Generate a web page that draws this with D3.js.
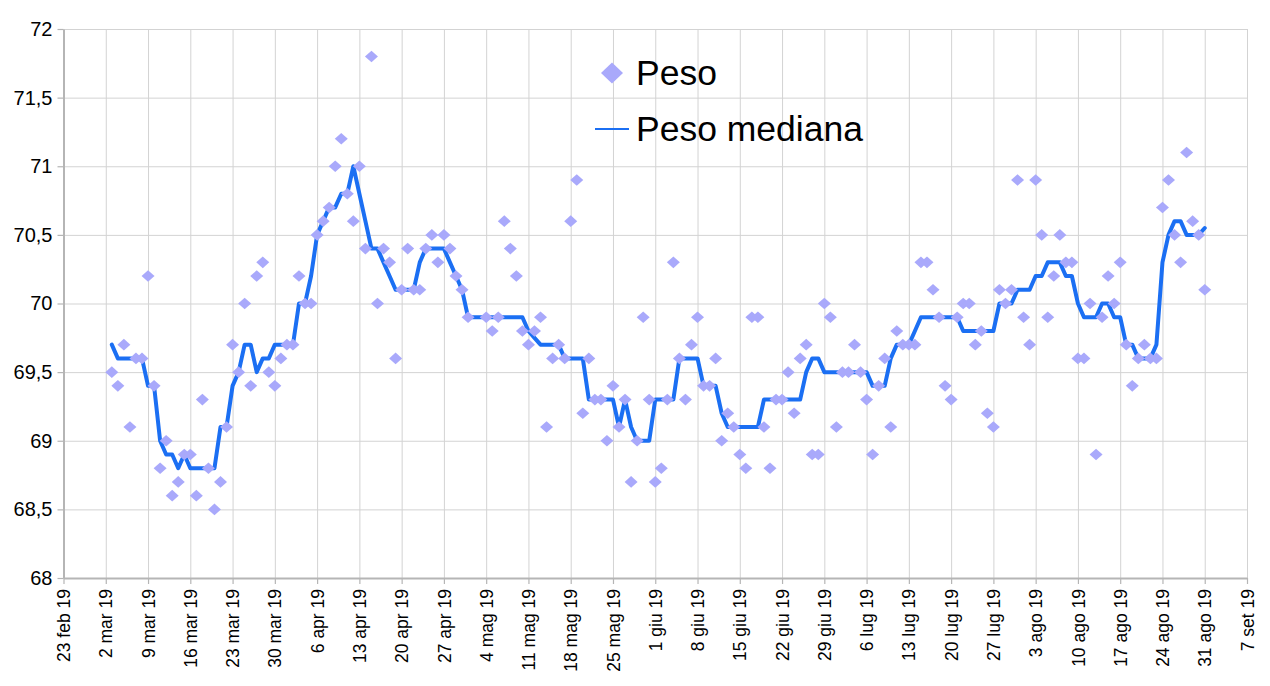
<!DOCTYPE html>
<html>
<head>
<meta charset="utf-8">
<script src="https://d3js.org/d3.v7.min.js"></script>
<style type="text/css">
  body { margin: 0; background: #fff; }
  svg { font-family: "Liberation Sans", Arial, sans-serif; }
  .grid line { stroke: #d3d3d3; stroke-width: 1; }
  .grid path { display: none; }
</style>
<script>
// daily weigh-ins (2 and 3 may are missing)
var giorni = [
  "2019-03-03","2019-03-04","2019-03-05","2019-03-06","2019-03-07","2019-03-08","2019-03-09","2019-03-10","2019-03-11","2019-03-12","2019-03-13","2019-03-14","2019-03-15","2019-03-16","2019-03-17","2019-03-18","2019-03-19","2019-03-20","2019-03-21","2019-03-22","2019-03-23","2019-03-24","2019-03-25","2019-03-26","2019-03-27","2019-03-28","2019-03-29","2019-03-30","2019-03-31",
  "2019-04-01","2019-04-02","2019-04-03","2019-04-04","2019-04-05","2019-04-06","2019-04-07","2019-04-08","2019-04-09","2019-04-10","2019-04-11","2019-04-12","2019-04-13","2019-04-14","2019-04-15","2019-04-16","2019-04-17","2019-04-18","2019-04-19","2019-04-20","2019-04-21","2019-04-22","2019-04-23","2019-04-24","2019-04-25","2019-04-26","2019-04-27","2019-04-28","2019-04-29","2019-04-30",
  "2019-05-01","2019-05-04","2019-05-05","2019-05-06","2019-05-07","2019-05-08","2019-05-09","2019-05-10","2019-05-11","2019-05-12","2019-05-13","2019-05-14","2019-05-15","2019-05-16","2019-05-17","2019-05-18","2019-05-19","2019-05-20","2019-05-21","2019-05-22","2019-05-23","2019-05-24","2019-05-25","2019-05-26","2019-05-27","2019-05-28","2019-05-29","2019-05-30","2019-05-31",
  "2019-06-01","2019-06-02","2019-06-03","2019-06-04","2019-06-05","2019-06-06","2019-06-07","2019-06-08","2019-06-09","2019-06-10","2019-06-11","2019-06-12","2019-06-13","2019-06-14","2019-06-15","2019-06-16","2019-06-17","2019-06-18","2019-06-19","2019-06-20","2019-06-21","2019-06-22","2019-06-23","2019-06-24","2019-06-25","2019-06-26","2019-06-27","2019-06-28","2019-06-29","2019-06-30",
  "2019-07-01","2019-07-02","2019-07-03","2019-07-04","2019-07-05","2019-07-06","2019-07-07","2019-07-08","2019-07-09","2019-07-10","2019-07-11","2019-07-12","2019-07-13","2019-07-14","2019-07-15","2019-07-16","2019-07-17","2019-07-18","2019-07-19","2019-07-20","2019-07-21","2019-07-22","2019-07-23","2019-07-24","2019-07-25","2019-07-26","2019-07-27","2019-07-28","2019-07-29","2019-07-30","2019-07-31",
  "2019-08-01","2019-08-02","2019-08-03","2019-08-04","2019-08-05","2019-08-06","2019-08-07","2019-08-08","2019-08-09","2019-08-10","2019-08-11","2019-08-12","2019-08-13","2019-08-14","2019-08-15","2019-08-16","2019-08-17","2019-08-18","2019-08-19","2019-08-20","2019-08-21","2019-08-22","2019-08-23","2019-08-24","2019-08-25","2019-08-26","2019-08-27","2019-08-28","2019-08-29","2019-08-30","2019-08-31"
];

var peso = [
  69.5,69.4,69.7,69.1,69.6,69.6,70.2,69.4,68.8,69.0,68.6,68.7,68.9,68.9,68.6,69.3,68.8,68.5,68.7,69.1,69.7,69.5,70.0,69.4,70.2,70.3,69.5,69.4,69.6,
  69.7,69.7,70.2,70.0,70.0,70.5,70.6,70.7,71.0,71.2,70.8,70.6,71.0,70.4,71.8,70.0,70.4,70.3,69.6,70.1,70.4,70.1,70.1,70.4,70.5,70.3,70.5,70.4,70.2,70.1,
  69.9,69.9,69.8,69.9,70.6,70.4,70.2,69.8,69.7,69.8,69.9,69.1,69.6,69.7,69.6,70.6,70.9,69.2,69.6,69.3,69.3,69.0,69.4,69.1,69.3,68.7,69.0,69.9,69.3,
  68.7,68.8,69.3,70.3,69.6,69.3,69.7,69.9,69.4,69.4,69.6,69.0,69.2,69.1,68.9,68.8,69.9,69.9,69.1,68.8,69.3,69.3,69.5,69.2,69.6,69.7,68.9,68.9,70.0,69.9,
  69.1,69.5,69.5,69.7,69.5,69.3,68.9,69.4,69.6,69.1,69.8,69.7,69.7,69.7,70.3,70.3,70.1,69.9,69.4,69.3,69.9,70.0,70.0,69.7,69.8,69.2,69.1,70.1,70.0,70.1,70.9,
  69.9,69.7,70.9,70.5,69.9,70.2,70.5,70.3,70.3,69.6,69.6,70.0,68.9,69.9,70.2,70.0,70.3,69.7,69.4,69.6,69.7,69.6,69.6,70.7,70.9,70.5,70.3,71.1,70.6,70.5,70.1
];

var pesoMediana = [
  69.7,69.6,69.6,69.6,69.6,69.6,69.4,69.4,69.0,68.9,68.9,68.8,68.9,68.8,68.8,68.8,68.8,68.8,69.1,69.1,69.4,69.5,69.7,69.7,69.5,69.6,69.6,69.7,69.7,
  69.7,69.7,70.0,70.0,70.2,70.5,70.6,70.7,70.7,70.8,70.8,71.0,70.8,70.6,70.4,70.4,70.3,70.2,70.1,70.1,70.1,70.1,70.3,70.4,70.4,70.4,70.4,70.3,70.2,70.1,
  69.9,69.9,69.9,69.9,69.9,69.9,69.9,69.9,69.8,69.75,69.7,69.7,69.7,69.7,69.6,69.6,69.6,69.6,69.3,69.3,69.3,69.3,69.3,69.1,69.3,69.1,69.0,69.0,69.0,
  69.3,69.3,69.3,69.3,69.6,69.6,69.6,69.6,69.4,69.4,69.4,69.2,69.1,69.1,69.1,69.1,69.1,69.1,69.3,69.3,69.3,69.3,69.3,69.3,69.3,69.5,69.6,69.6,69.5,69.5,
  69.5,69.5,69.5,69.5,69.5,69.5,69.4,69.4,69.4,69.6,69.7,69.7,69.7,69.8,69.9,69.9,69.9,69.9,69.9,69.9,69.9,69.8,69.8,69.8,69.8,69.8,69.8,70.0,70.0,70.0,70.1,
  70.1,70.1,70.2,70.2,70.3,70.3,70.3,70.2,70.2,70.0,69.9,69.9,69.9,70.0,70.0,69.9,69.9,69.7,69.7,69.6,69.6,69.6,69.7,70.3,70.5,70.6,70.6,70.5,70.5,70.5,70.55
];

var tickDate = [
  "2019-02-23","2019-03-02","2019-03-09","2019-03-16","2019-03-23","2019-03-30","2019-04-06","2019-04-13","2019-04-20","2019-04-27",
  "2019-05-04","2019-05-11","2019-05-18","2019-05-25","2019-06-01","2019-06-08","2019-06-15","2019-06-22","2019-06-29","2019-07-06",
  "2019-07-13","2019-07-20","2019-07-27","2019-08-03","2019-08-10","2019-08-17","2019-08-24","2019-08-31","2019-09-07"
];
var tickLabel = [
  "23 feb 19","2 mar 19","9 mar 19","16 mar 19","23 mar 19","30 mar 19","6 apr 19","13 apr 19","20 apr 19","27 apr 19",
  "4 mag 19","11 mag 19","18 mag 19","25 mag 19","1 giu 19","8 giu 19","15 giu 19","22 giu 19","29 giu 19","6 lug 19",
  "13 lug 19","20 lug 19","27 lug 19","3 ago 19","10 ago 19","17 ago 19","24 ago 19","31 ago 19","7 set 19"
];
var yTicks = [68, 68.5, 69, 69.5, 70, 70.5, 71, 71.5, 72];
var serie = ["Peso", "Peso mediana"];

function diamondPath(w, h) {
  return "M0," + (-h) + "L" + w + ",0L0," + h + "L" + (-w) + ",0Z";
}

function drawChart() {
  var W = 1270, H = 686;
  var left = 63.5, right = 1247, top = 29, bottom = 578;
  var parse = d3.utcParse("%Y-%m-%d");
  var itFmt = d3.formatLocale({decimal: ",", thousands: ".", grouping: [3], currency: ["", " €"]}).format(".1~f");

  var rows = giorni.map(function(g, i) { return { d: parse(g), p: peso[i], m: pesoMediana[i] }; });
  var ticks = tickDate.map(parse);

  var svg = d3.select("#chart").attr("width", W).attr("height", H);

  var scX = d3.scaleUtc().domain([ticks[0], ticks[ticks.length - 1]]).range([left, right]);
  var scY = d3.scaleLinear().domain([68, 72]).range([bottom, top]);

  // grid
  svg.append("g").attr("class", "grid")
    .attr("transform", "translate(0," + bottom + ")")
    .call(d3.axisBottom(scX).tickValues(ticks).tickSize(-(bottom - top)).tickFormat(""));
  svg.append("g").attr("class", "grid")
    .attr("transform", "translate(" + left + ",0)")
    .call(d3.axisLeft(scY).tickValues(yTicks).tickSize(-(right - left)).tickFormat(""));

  // axes
  var ax = svg.append("g").attr("transform", "translate(0," + bottom + ")")
    .call(d3.axisBottom(scX).tickValues(ticks).tickSizeInner(6).tickSizeOuter(0)
      .tickFormat(function(d, i) { return tickLabel[i]; }));
  ax.selectAll("text")
    .attr("transform", "rotate(-90)")
    .attr("x", -11).attr("y", 0).attr("dy", "0.35em")
    .style("text-anchor", "end")
    .style("font-size", "17.5px").style("fill", "#000");

  var ay = svg.append("g").attr("transform", "translate(" + left + ",0)")
    .call(d3.axisLeft(scY).tickValues(yTicks).tickSizeInner(6).tickSizeOuter(0).tickPadding(5).tickFormat(itFmt));
  ay.selectAll("text").style("font-size", "20px").style("font-family", "Liberation Sans, Arial, sans-serif").style("fill", "#000");

  [ax, ay].forEach(function(a) {
    a.select(".domain").attr("stroke", "#b5b5b5").attr("stroke-width", 2);
    a.selectAll(".tick line").attr("stroke", "#b5b5b5").attr("stroke-width", 1.2);
  });

  // median line
  var line = d3.line().x(function(r) { return scX(r.d); }).y(function(r) { return scY(r.m); });
  svg.append("path").datum(rows)
    .attr("d", line)
    .attr("fill", "none").attr("stroke", "#1b6ff3").attr("stroke-width", 4)
    .attr("stroke-linejoin", "round").attr("stroke-linecap", "round");

  // weights
  svg.append("g").selectAll("path").data(rows).enter().append("path")
    .attr("d", diamondPath(6.5, 5.8))
    .attr("transform", function(r) { return "translate(" + scX(r.d) + "," + scY(r.p) + ")"; })
    .attr("fill", "#a9a9fb");

  // legend
  var lg = svg.append("g");
  lg.append("path").attr("d", diamondPath(11, 10.5))
    .attr("transform", "translate(612,73)").attr("fill", "#a9a9fb");
  lg.append("line").attr("x1", 595).attr("x2", 629).attr("y1", 129).attr("y2", 129)
    .attr("stroke", "#1b6ff3").attr("stroke-width", 2);
  lg.selectAll("text").data(serie).enter().append("text")
    .attr("x", 636).attr("y", function(d, i) { return i ? 141 : 85; })
    .style("font-size", "35.5px").style("fill", "#000")
    .text(function(d) { return d; });
}
</script>
</head>
<body onload="drawChart()">
  <svg id="chart"></svg>
</body>
</html>
